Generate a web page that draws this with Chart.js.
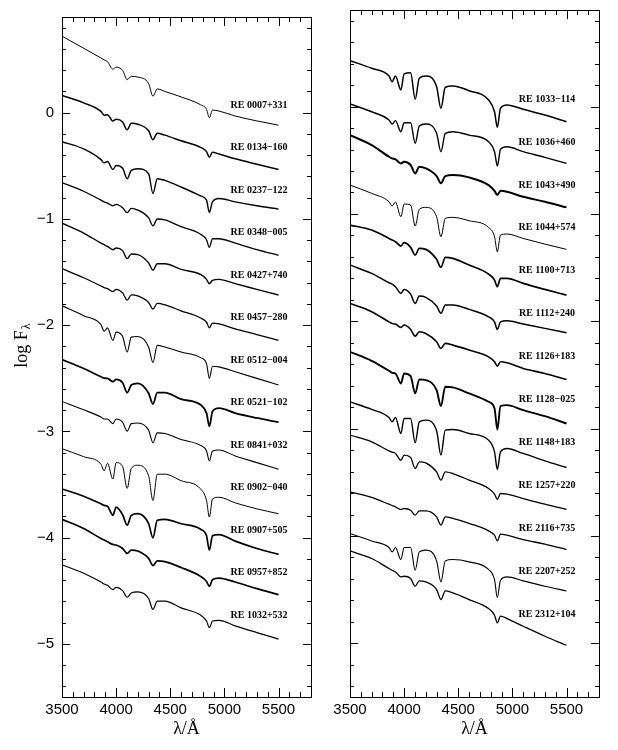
<!DOCTYPE html>
<html>
<head>
<meta charset="utf-8">
<script src="https://cdn.jsdelivr.net/npm/chart.js@4.4.0/dist/chart.umd.min.js"></script>
<style>
    body { margin: 0; background: #fff; }
    #wrap { position: relative; width: 618px; height: 750px; }
    canvas { position: absolute; top: 0; }
    #leftPanel { left: 0; }
    #rightPanel { left: 318px; }
</style>
</head>
<body>
<div id="wrap">
    <canvas id="leftPanel" width="318" height="750"></canvas>
    <canvas id="rightPanel" width="300" height="750"></canvas>
</div>
<script>
// wavelength grid shared by every spectrum (Angstrom)
const wavelengths = [3500, 3700, 3860, 3889, 3920, 3970, 4000, 4060, 4102, 4140, 4200, 4300,
    4340, 4380, 4450, 4600, 4780, 4835, 4861, 4890, 4950, 5100, 5300, 5500];

const xTicks = [3500, 4000, 4500, 5000, 5500];
const yTicks = [0, -1, -2, -3, -4, -5];

const leftStars = ['RE 0007+331', 'RE 0134\u2212160', 'RE 0237\u2212122', 'RE 0348\u2212005', 'RE 0427+740',
    'RE 0457\u2212280', 'RE 0512\u2212004', 'RE 0521\u2212102', 'RE 0841+032', 'RE 0902\u2212040',
    'RE 0907+505', 'RE 0957+852', 'RE 1032+532'];
const rightStars = ['RE 1033\u2212114', 'RE 1036+460', 'RE 1043+490', 'RE 1044+574', 'RE 1100+713',
    'RE 1112+240', 'RE 1126+183', 'RE 1128\u2212025', 'RE 1148+183', 'RE 1257+220',
    'RE 2116+735', 'RE 2207+252', 'RE 2312+104'];
const labelLevels = [0.07, -0.33, -0.73, -1.13, -1.53, -1.93, -2.33, -2.73, -3.13, -3.53, -3.93, -4.33, -4.73];

// log F_lambda (offset)
const re0007 = [0.720, 0.606, 0.514, 0.497, 0.480, 0.409, 0.428, 0.397, 0.310, 0.341, 0.335, 0.273, 0.155, 0.223, 0.199, 0.148, 0.074, 0.031, -0.048, 0.024, 0.015, -0.032, -0.078, -0.118];
const re0134 = [0.161, 0.092, 0.012, -0.024, -0.019, -0.078, -0.063, -0.088, -0.162, -0.100, -0.109, -0.171, -0.255, -0.193, -0.212, -0.265, -0.327, -0.367, -0.420, -0.374, -0.389, -0.435, -0.486, -0.535];
const re0237 = [-0.274, -0.342, -0.442, -0.473, -0.460, -0.535, -0.498, -0.523, -0.622, -0.544, -0.528, -0.575, -0.761, -0.622, -0.637, -0.700, -0.784, -0.824, -0.939, -0.840, -0.808, -0.840, -0.877, -0.908];
const re0348 = [-0.659, -0.740, -0.824, -0.840, -0.852, -0.877, -0.864, -0.896, -0.942, -0.902, -0.917, -0.989, -1.066, -1.001, -1.010, -1.073, -1.144, -1.197, -1.268, -1.187, -1.187, -1.228, -1.290, -1.343];
const re0427 = [-1.041, -1.134, -1.228, -1.243, -1.259, -1.290, -1.274, -1.299, -1.374, -1.330, -1.336, -1.414, -1.483, -1.423, -1.423, -1.476, -1.523, -1.569, -1.610, -1.579, -1.569, -1.610, -1.663, -1.716];
const re0457 = [-1.467, -1.554, -1.632, -1.647, -1.656, -1.684, -1.663, -1.697, -1.765, -1.716, -1.725, -1.787, -1.849, -1.796, -1.809, -1.865, -1.933, -1.973, -2.026, -1.982, -1.989, -2.035, -2.089, -2.144];
const re0512 = [-1.818, -1.911, -1.995, -2.057, -2.026, -2.144, -2.066, -2.107, -2.253, -2.113, -2.107, -2.206, -2.352, -2.191, -2.206, -2.253, -2.306, -2.362, -2.501, -2.387, -2.393, -2.439, -2.501, -2.564];
const re0521 = [-2.324, -2.408, -2.486, -2.499, -2.501, -2.532, -2.511, -2.542, -2.635, -2.564, -2.548, -2.641, -2.744, -2.635, -2.635, -2.697, -2.750, -2.828, -2.952, -2.812, -2.781, -2.828, -2.874, -2.914];
const re0841 = [-2.719, -2.797, -2.865, -2.884, -2.884, -2.927, -2.884, -2.914, -2.998, -2.927, -2.921, -2.989, -3.107, -3.014, -3.020, -3.076, -3.132, -3.185, -3.278, -3.185, -3.175, -3.231, -3.294, -3.356];
const re0902 = [-3.163, -3.238, -3.309, -3.371, -3.300, -3.449, -3.294, -3.331, -3.536, -3.349, -3.319, -3.418, -3.651, -3.403, -3.403, -3.464, -3.542, -3.651, -3.806, -3.636, -3.620, -3.673, -3.729, -3.775];
const re0907 = [-3.542, -3.610, -3.682, -3.697, -3.704, -3.790, -3.713, -3.785, -3.883, -3.790, -3.775, -3.869, -4.002, -3.837, -3.828, -3.869, -3.921, -3.983, -4.117, -3.983, -3.971, -4.033, -4.102, -4.158];
const re0957 = [-3.828, -3.915, -4.008, -4.023, -4.039, -4.064, -4.070, -4.102, -4.148, -4.117, -4.126, -4.195, -4.263, -4.219, -4.226, -4.281, -4.365, -4.412, -4.459, -4.396, -4.381, -4.418, -4.480, -4.536];
const re1032 = [-4.256, -4.335, -4.418, -4.437, -4.449, -4.489, -4.468, -4.499, -4.561, -4.521, -4.511, -4.573, -4.676, -4.598, -4.598, -4.661, -4.729, -4.785, -4.847, -4.785, -4.778, -4.831, -4.894, -4.955];

const re1033 = [0.428, 0.357, 0.285, 0.232, 0.285, 0.155, 0.304, 0.316, 0.068, 0.264, 0.285, 0.185, -0.016, 0.180, 0.192, 0.148, 0.062, -0.048, -0.193, -0.016, 0.015, -0.025, -0.078, -0.141];
const re1036 = [0.024, -0.048, -0.125, -0.162, -0.131, -0.234, -0.150, -0.150, -0.342, -0.181, -0.162, -0.249, -0.420, -0.249, -0.234, -0.265, -0.327, -0.420, -0.554, -0.398, -0.374, -0.420, -0.473, -0.529];
const re1043 = [-0.265, -0.358, -0.467, -0.482, -0.491, -0.529, -0.514, -0.544, -0.622, -0.560, -0.575, -0.647, -0.715, -0.647, -0.637, -0.659, -0.731, -0.784, -0.824, -0.784, -0.793, -0.840, -0.886, -0.939];
const re1044 = [-0.731, -0.808, -0.886, -0.926, -0.889, -1.026, -0.908, -0.917, -1.113, -0.957, -0.939, -1.026, -1.212, -1.041, -1.032, -1.063, -1.125, -1.212, -1.352, -1.197, -1.187, -1.228, -1.281, -1.330];
const re1100 = [-1.103, -1.150, -1.228, -1.243, -1.259, -1.299, -1.268, -1.311, -1.383, -1.321, -1.330, -1.423, -1.498, -1.404, -1.414, -1.476, -1.560, -1.616, -1.678, -1.600, -1.600, -1.647, -1.703, -1.756];
const re1112 = [-1.476, -1.554, -1.641, -1.653, -1.678, -1.740, -1.703, -1.747, -1.834, -1.765, -1.777, -1.858, -1.926, -1.849, -1.849, -1.889, -1.958, -2.005, -2.076, -2.005, -1.995, -2.026, -2.066, -2.107];
const re1126 = [-1.834, -1.911, -2.005, -2.020, -2.026, -2.057, -2.035, -2.076, -2.138, -2.098, -2.113, -2.191, -2.253, -2.206, -2.222, -2.268, -2.331, -2.377, -2.418, -2.377, -2.387, -2.439, -2.486, -2.542];
const re1128 = [-2.284, -2.368, -2.461, -2.480, -2.486, -2.579, -2.486, -2.511, -2.672, -2.541, -2.548, -2.641, -2.790, -2.610, -2.616, -2.672, -2.750, -2.812, -3.008, -2.790, -2.781, -2.828, -2.884, -2.952];
const re1148 = [-2.750, -2.821, -2.896, -2.937, -2.896, -3.045, -2.905, -2.905, -3.132, -2.937, -2.921, -3.020, -3.247, -3.014, -3.008, -3.045, -3.107, -3.216, -3.380, -3.216, -3.185, -3.231, -3.300, -3.362];
const re1257 = [-3.061, -3.123, -3.207, -3.219, -3.231, -3.294, -3.247, -3.269, -3.371, -3.309, -3.319, -3.403, -3.480, -3.403, -3.418, -3.480, -3.557, -3.610, -3.660, -3.604, -3.610, -3.651, -3.704, -3.753];
const re2116 = [-3.589, -3.641, -3.704, -3.716, -3.729, -3.753, -3.744, -3.760, -3.806, -3.766, -3.766, -3.822, -3.899, -3.822, -3.837, -3.883, -3.952, -3.993, -4.046, -3.983, -3.993, -4.033, -4.076, -4.126];
const re2207 = [-3.977, -4.046, -4.107, -4.148, -4.107, -4.219, -4.107, -4.107, -4.319, -4.148, -4.132, -4.232, -4.428, -4.232, -4.219, -4.241, -4.312, -4.406, -4.573, -4.412, -4.381, -4.418, -4.468, -4.512];
const re2312 = [-4.139, -4.210, -4.303, -4.319, -4.335, -4.381, -4.375, -4.396, -4.468, -4.418, -4.428, -4.499, -4.592, -4.512, -4.530, -4.592, -4.676, -4.738, -4.810, -4.747, -4.769, -4.841, -4.934, -5.018];

const leftFlux = [re0007, re0134, re0237, re0348, re0427, re0457, re0512, re0521, re0841, re0902, re0907, re0957, re1032];
const rightFlux = [re1033, re1036, re1043, re1044, re1100, re1112, re1126, re1128, re1148, re1257, re2116, re2207, re2312];

// noisier spectra get a heavier pen
const leftWidths = [1.0, 1.5, 1.4, 1.3, 1.4, 1.3, 1.1, 1.8, 1.1, 1.0, 1.7, 1.7, 1.2];
const rightWidths = [1.5, 1.4, 2.0, 1.0, 1.7, 1.5, 1.6, 1.9, 1.4, 1.3, 1.3, 1.1, 1.3];

const sansFont = 'Liberation Sans';
const serifFont = 'Liberation Serif';

const framePlugin = {
    id: 'frame',
    afterDraw(chart, args, opts) {
        const { ctx, chartArea: a } = chart;
        const x = chart.scales.x;
        const y = chart.scales.y;
        ctx.save();
        ctx.strokeStyle = '#000';
        ctx.lineWidth = 1;
        ctx.strokeRect(a.left + 0.5, a.top + 0.5, a.right - a.left, a.bottom - a.top);

        ctx.beginPath();
        for (let w = 3500; w <= 5800; w += 100) {
            const px = Math.round(x.getPixelForValue(w)) + 0.5;
            const len = w % 500 === 0 ? 9 : 5;
            ctx.moveTo(px, a.bottom); ctx.lineTo(px, a.bottom - len);
            ctx.moveTo(px, a.top); ctx.lineTo(px, a.top + len);
        }
        for (let i = -27; i <= 4; i++) {
            const py = Math.round(y.getPixelForValue(i / 5)) + 0.5;
            const len = i % 5 === 0 ? 8 : 4;
            ctx.moveTo(a.left, py); ctx.lineTo(a.left + len, py);
            ctx.moveTo(a.right, py); ctx.lineTo(a.right - len, py);
        }
        ctx.stroke();

        ctx.fillStyle = '#000';
        ctx.font = 'bold 10px "' + serifFont + '"';
        ctx.textAlign = 'center';
        ctx.textBaseline = 'middle';
        opts.names.forEach((name, k) => {
            ctx.fillText(name, x.getPixelForValue(5320), y.getPixelForValue(labelLevels[k]));
        });

        if (opts.yTitle) {
            ctx.translate(22, 346);
            ctx.rotate(-Math.PI / 2);
            ctx.textAlign = 'left';
            ctx.font = '18px "' + serifFont + '"';
            const main = 'log F';
            const wMain = ctx.measureText(main).width;
            ctx.font = '12px "' + serifFont + '"';
            const wSub = ctx.measureText('\u03bb').width;
            const start = -(wMain + wSub) / 2;
            ctx.font = '18px "' + serifFont + '"';
            ctx.fillText(main, start, 0);
            ctx.font = '12px "' + serifFont + '"';
            ctx.fillText('\u03bb', start + wMain + 1, 5);
        }
        ctx.restore();
    }
};

const makePanel = (canvasId, names, fluxes, widths, isLeft) => {
    const datasets = fluxes.map((flux, k) => ({
        label: names[k],
        data: wavelengths.map((w, i) => ({ x: w, y: flux[i] })),
        borderColor: '#000',
        borderWidth: widths[k],
        pointRadius: 0,
        fill: false,
        cubicInterpolationMode: 'monotone'
    }));

    new Chart(document.getElementById(canvasId), {
        type: 'line',
        data: { datasets },
        options: {
            responsive: false,
            animation: false,
            layout: {
                padding: isLeft
                    ? { left: 0, right: 7, top: 10, bottom: 0 }
                    : { left: 32, right: 19, top: 10, bottom: 0 }
            },
            plugins: {
                legend: { display: false },
                tooltip: { enabled: false },
                frame: { names, yTitle: isLeft }
            },
            scales: {
                x: {
                    type: 'linear',
                    min: 3500,
                    max: 5800,
                    grid: { display: false, drawTicks: false },
                    border: { display: false },
                    afterBuildTicks: s => { s.ticks = xTicks.map(v => ({ value: v })); },
                    afterFit: s => { s.height = 53; },
                    ticks: {
                        padding: 4,
                        color: '#000',
                        maxRotation: 0,
                        autoSkip: false,
                        font: { family: sansFont, size: 15 },
                        callback: v => String(v)
                    },
                    title: {
                        display: true,
                        text: '\u03bb/\u00c5',
                        color: '#000',
                        font: { family: serifFont, size: 18 },
                        padding: { top: 0, bottom: 10 }
                    }
                },
                y: {
                    type: 'linear',
                    display: isLeft,
                    min: -5.5,
                    max: 0.9,
                    grid: { display: false, drawTicks: false },
                    border: { display: false },
                    afterBuildTicks: s => { s.ticks = yTicks.map(v => ({ value: v })); },
                    afterFit: s => { s.width = isLeft ? 62 : 0; },
                    ticks: {
                        padding: 8,
                        color: '#000',
                        font: { family: sansFont, size: 15 },
                        callback: v => v < 0 ? '\u2212' + Math.abs(v) : String(v)
                    }
                }
            }
        },
        plugins: [framePlugin]
    });
};

makePanel('leftPanel', leftStars, leftFlux, leftWidths, true);
makePanel('rightPanel', rightStars, rightFlux, rightWidths, false);
</script>
</body>
</html>
